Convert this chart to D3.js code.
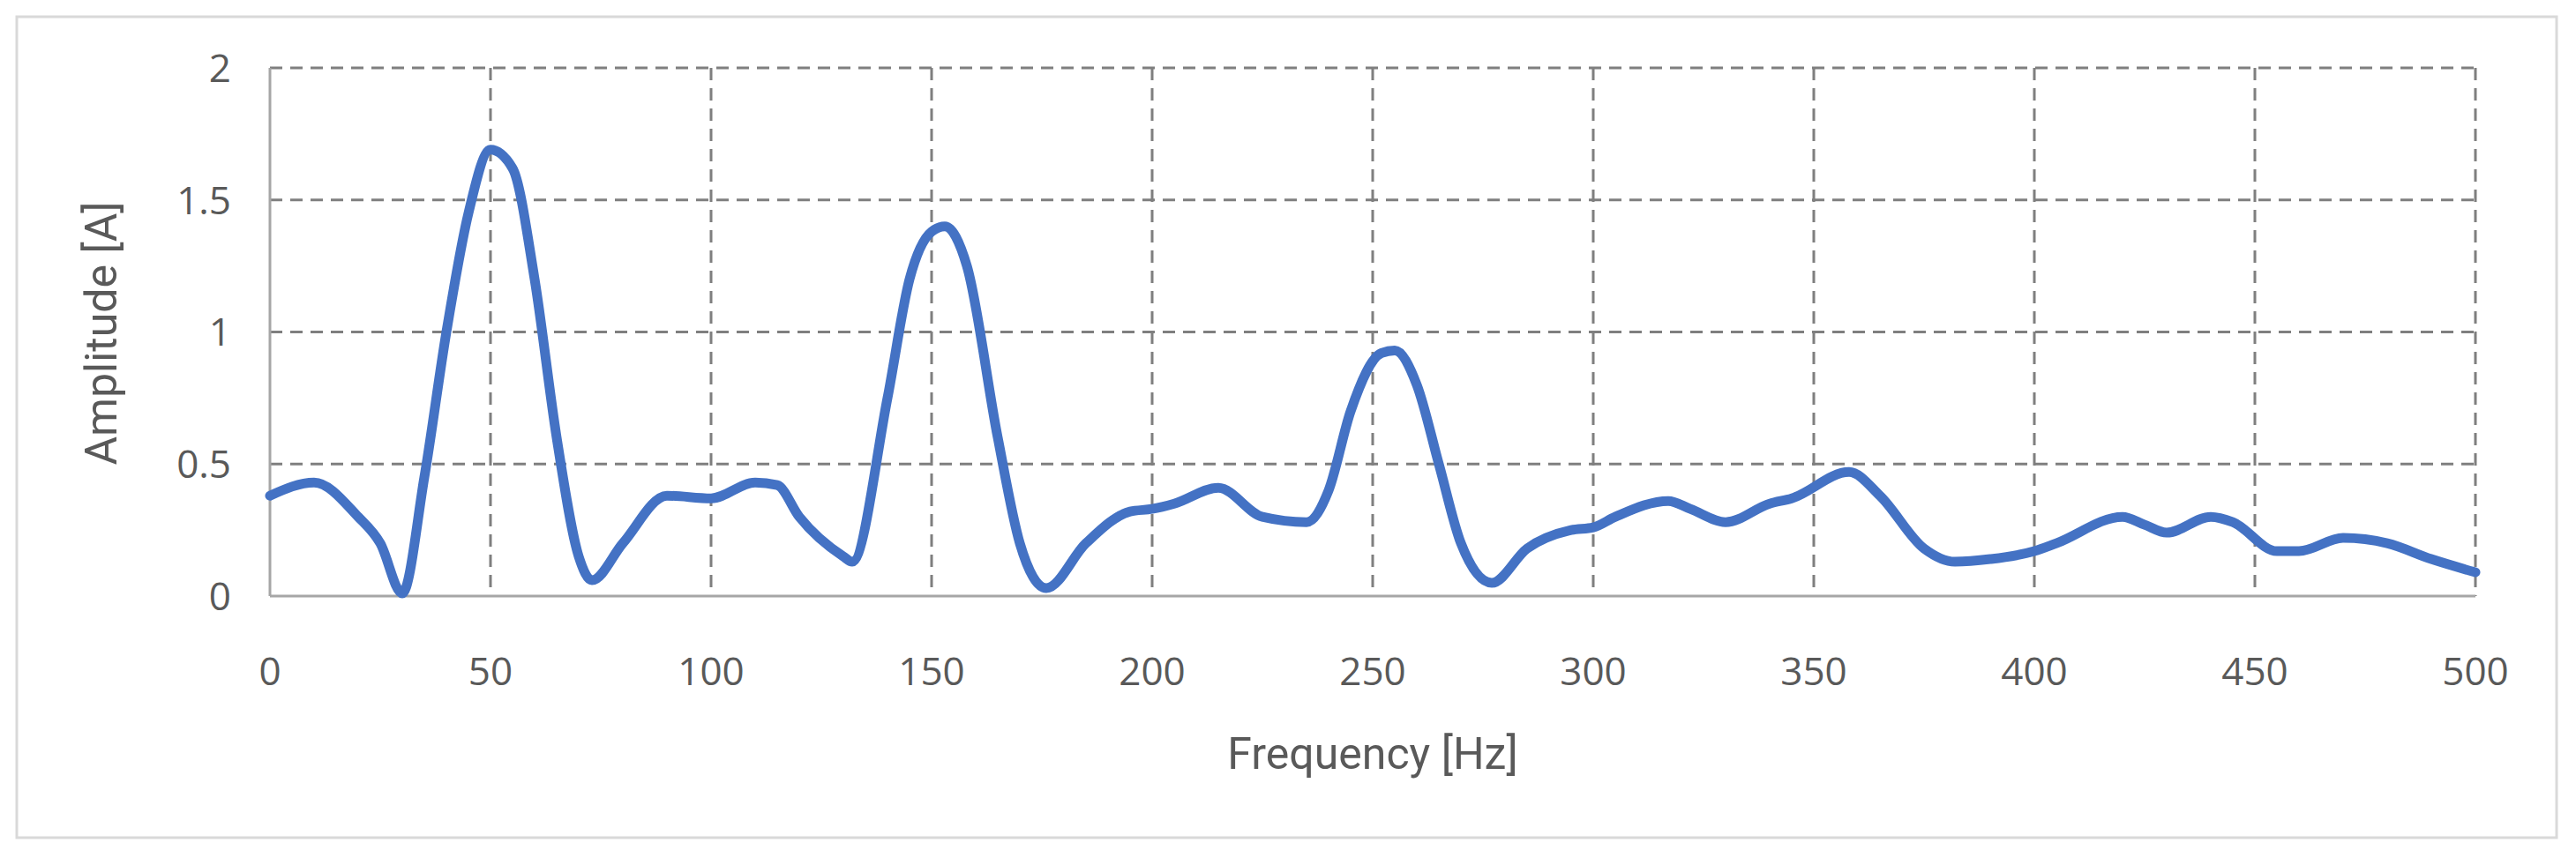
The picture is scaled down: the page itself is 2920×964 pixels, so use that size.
<!DOCTYPE html>
<html><head><meta charset="utf-8">
<script src="https://cdn.jsdelivr.net/npm/d3@7"></script>
<style>body{margin:0;background:#fff}</style></head>
<body><svg id="chart" width="2920" height="964"></svg>
<script>
// spectrum
let freq = [0,10,20,25,30,35,40,45,50,55,60,65,70,73,80,90,100,110,115,120,130,132,140,145,150,153,158,165,170,176,185,195,200,205,215,225,235,240,245,252,255,260,265,270,277,285,295,300,305,317,322,330,340,345,358,365,375,382,390,400,405,420,425,430,440,445,455,460,470,480,490,500];
let amp = [0.38,0.43,0.3,0.2,0.01,0.45,1.0,1.45,1.69,1.62,1.2,0.6,0.15,0.06,0.2,0.38,0.37,0.43,0.42,0.3,0.15,0.13,0.75,1.2,1.38,1.4,1.25,0.6,0.2,0.03,0.2,0.32,0.33,0.35,0.41,0.3,0.28,0.4,0.7,0.92,0.93,0.8,0.5,0.2,0.05,0.18,0.25,0.26,0.3,0.36,0.33,0.28,0.35,0.37,0.47,0.38,0.18,0.13,0.14,0.17,0.2,0.3,0.27,0.24,0.3,0.28,0.17,0.17,0.22,0.2,0.14,0.09];
let xTicks = [0,50,100,150,200,250,300,350,400,450,500];
let yTicks = [0,0.5,1,1.5,2];

let svg = d3.select('#chart'),
    plotLeft = 306, plotRight = 2806, plotTop = 77, plotBottom = 676;

svg.append('rect').attr('x',19).attr('y',19).attr('width',2879).attr('height',931)
    .attr('fill','#fff').attr('stroke','#d9d9d9').attr('stroke-width',3);

let x = d3.scaleLinear().domain([0,500]).range([plotLeft,plotRight]);
let y = d3.scaleLinear().domain([0,2]).range([plotBottom,plotTop]);

// grid
svg.append('g').selectAll('line').data(yTicks.filter(d => d > 0)).join('line')
    .attr('x1',plotLeft).attr('x2',plotRight).attr('y1',d => y(d)).attr('y2',d => y(d))
    .attr('stroke','#7f7f7f').attr('stroke-width',3).attr('stroke-dasharray','14,9');
svg.append('g').selectAll('line').data(xTicks.filter(d => d > 0)).join('line')
    .attr('y1',plotTop).attr('y2',plotBottom).attr('x1',d => x(d)).attr('x2',d => x(d))
    .attr('stroke','#7f7f7f').attr('stroke-width',3).attr('stroke-dasharray','14,9');

// axes
svg.append('line').attr('x1',plotLeft).attr('x2',plotLeft).attr('y1',plotTop).attr('y2',plotBottom)
    .attr('stroke','#a6a6a6').attr('stroke-width',3);
svg.append('line').attr('x1',plotLeft).attr('x2',plotRight).attr('y1',plotBottom).attr('y2',plotBottom)
    .attr('stroke','#a6a6a6').attr('stroke-width',3);

let tickFont = "'Open Sans', 'DejaVu Sans', sans-serif";
svg.append('g').selectAll('text').data(yTicks).join('text')
    .attr('x',262).attr('y',d => y(d)).attr('dy','0.36em').attr('text-anchor','end')
    .attr('font-family',tickFont).attr('font-size',44).attr('fill','#595959')
    .text(d => d);
svg.append('g').selectAll('text').data(xTicks).join('text')
    .attr('x',d => x(d)).attr('y',777).attr('text-anchor','middle')
    .attr('font-family',tickFont).attr('font-size',44).attr('fill','#595959')
    .text(d => d);

let titleFont = "'Liberation Sans Narrow', 'Roboto', sans-serif";
svg.append('text').attr('x',1556).attr('y',872).attr('text-anchor','middle')
    .attr('font-family',titleFont).attr('font-size',50).attr('fill','#595959')
    .text('Frequency [Hz]');
svg.append('text').attr('transform','translate(132,378) rotate(-90)').attr('text-anchor','middle')
    .attr('font-family',titleFont).attr('font-size',50).attr('fill','#595959')
    .text('Amplitude [A]');

let line = d3.line().x((d,i) => x(freq[i])).y(d => y(d)).curve(d3.curveMonotoneX);
svg.append('path').datum(amp).attr('d',line).attr('fill','none')
    .attr('stroke','#4472c4').attr('stroke-width',11).attr('stroke-linejoin','round').attr('stroke-linecap','round');
</script></body></html>
